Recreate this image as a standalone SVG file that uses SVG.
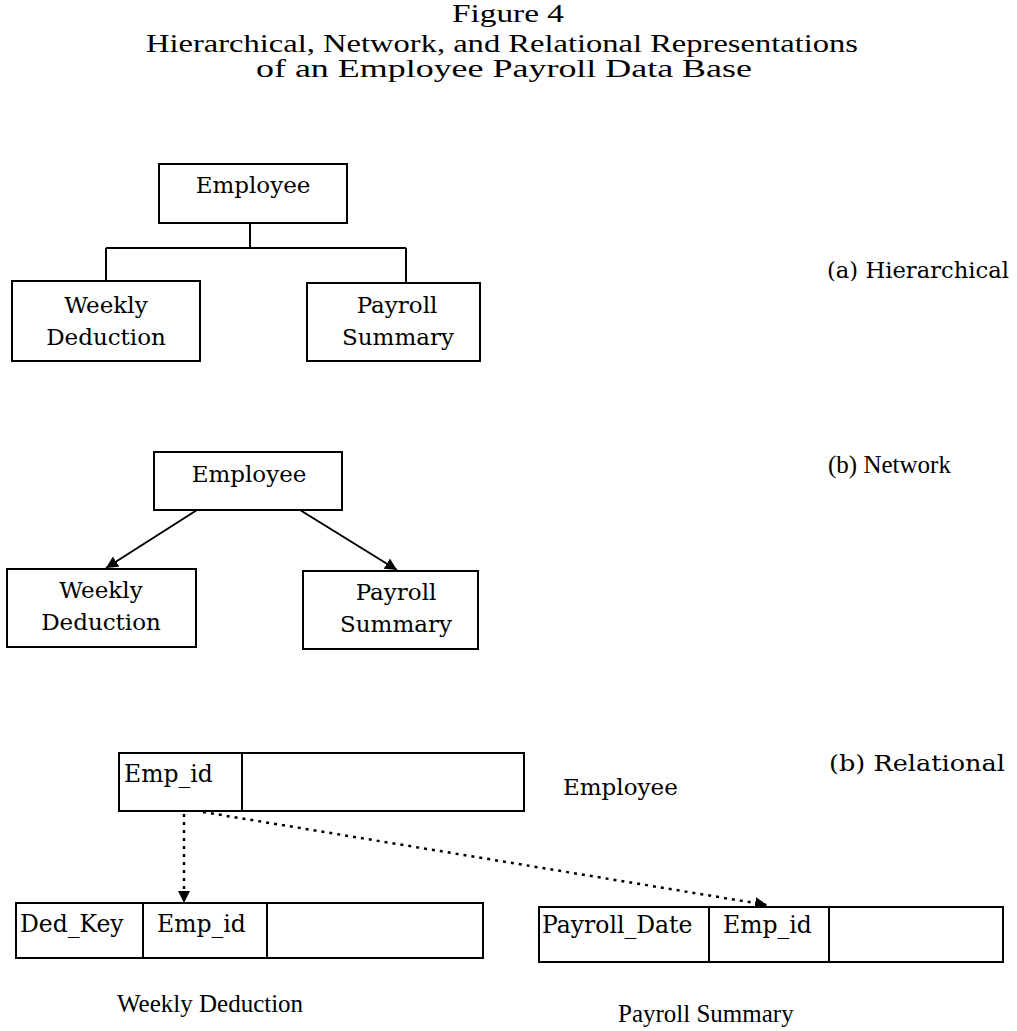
<svg xmlns="http://www.w3.org/2000/svg" width="1017" height="1031" viewBox="0 0 1017 1031">
<style>
.bg{fill:#fff}
.box{fill:#fff;stroke:#000;stroke-width:2}
.ln{fill:none;stroke:#000;stroke-width:2}
.dot{fill:none;stroke:#000;stroke-width:2.5;stroke-dasharray:3 5}
.t{font-family:"Liberation Serif","Times New Roman",serif;fill:#000}
.n{font-family:"DejaVu Serif","Liberation Serif",serif;fill:#000}
</style>
<defs>
<marker id="ah" viewBox="0 0 10 10" refX="10" refY="5" markerWidth="12" markerHeight="12" markerUnits="userSpaceOnUse" orient="auto">
<path d="M0,0 L10,5 L0,10 z" fill="#000"/>
</marker>
</defs>
<rect class="bg" x="0" y="0" width="1017" height="1031"/>
<g id="title">
<text class="t" x="452" y="22" font-size="25" textLength="112" lengthAdjust="spacingAndGlyphs">Figure 4</text>
<text class="t" x="146" y="52" font-size="25" textLength="712" lengthAdjust="spacingAndGlyphs">Hierarchical, Network, and Relational Representations</text>
<text class="t" x="256" y="77" font-size="25" textLength="496" lengthAdjust="spacingAndGlyphs">of an Employee Payroll Data Base</text>
</g>
<g id="connectors">
<path class="ln" d="M250,223 V248 M106,248 H406 M106,248 V281 M406,248 V283"/>
<line class="ln" x1="197" y1="510" x2="106" y2="568" marker-end="url(#ah)"/>
<line class="ln" x1="300" y1="510" x2="397" y2="570" marker-end="url(#ah)"/>
<line class="dot" x1="184" y1="814" x2="184" y2="903" marker-end="url(#ah)"/>
<line class="dot" x1="203" y1="812" x2="767" y2="905" marker-end="url(#ah)"/>
</g>
<g id="h-employee">
<rect class="box" x="159" y="164" width="188" height="59"/>
<text class="n" x="253" y="193" font-size="23" text-anchor="middle">Employee</text>
</g>
<g id="h-weekly">
<rect class="box" x="12" y="281" width="188" height="80"/>
<text class="n" x="106" y="313" font-size="23" text-anchor="middle">Weekly</text>
<text class="n" x="106" y="345" font-size="23" text-anchor="middle">Deduction</text>
</g>
<g id="h-payroll">
<rect class="box" x="307" y="283" width="173" height="78"/>
<text class="n" x="397" y="313" font-size="23" text-anchor="middle">Payroll</text>
<text class="n" x="398" y="345" font-size="23" text-anchor="middle">Summary</text>
</g>
<g id="label-a">
<text class="n" x="827" y="278" font-size="22.5" textLength="182" lengthAdjust="spacingAndGlyphs">(a) Hierarchical</text>
</g>
<g id="n-employee">
<rect class="box" x="154" y="452" width="188" height="58"/>
<text class="n" x="249" y="482" font-size="23" text-anchor="middle">Employee</text>
</g>
<g id="n-weekly">
<rect class="box" x="7" y="569" width="189" height="78"/>
<text class="n" x="101" y="598" font-size="23" text-anchor="middle">Weekly</text>
<text class="n" x="101" y="630" font-size="23" text-anchor="middle">Deduction</text>
</g>
<g id="n-payroll">
<rect class="box" x="303" y="571" width="175" height="78"/>
<text class="n" x="396" y="600" font-size="23" text-anchor="middle">Payroll</text>
<text class="n" x="396" y="632" font-size="23" text-anchor="middle">Summary</text>
</g>
<g id="label-b">
<text class="t" x="828" y="473" font-size="25">(b) Network</text>
</g>
<g id="r-employee">
<rect class="box" x="119" y="753" width="405" height="58"/>
<line class="ln" x1="242" y1="753" x2="242" y2="811"/>
<text class="n" x="124" y="782" font-size="23.5">Emp_id</text>
</g>
<text class="n" x="563" y="795" font-size="23">Employee</text>
<g id="label-c">
<text class="n" x="829" y="771" font-size="23" textLength="176" lengthAdjust="spacingAndGlyphs">(b) Relational</text>
</g>
<g id="r-weekly">
<rect class="box" x="16" y="903" width="467" height="55"/>
<line class="ln" x1="143" y1="903" x2="143" y2="958"/>
<line class="ln" x1="267" y1="903" x2="267" y2="958"/>
<text class="n" x="20" y="932" font-size="23.5">Ded_Key</text>
<text class="n" x="157" y="932" font-size="23.5">Emp_id</text>
</g>
<g id="r-payroll">
<rect class="box" x="539" y="907" width="464" height="55"/>
<line class="ln" x1="709" y1="907" x2="709" y2="962"/>
<line class="ln" x1="829" y1="907" x2="829" y2="962"/>
<text class="n" x="542" y="933" font-size="23.5">Payroll_Date</text>
<text class="n" x="723" y="933" font-size="23.5">Emp_id</text>
</g>
<text class="t" x="117" y="1012" font-size="25">Weekly Deduction</text>
<text class="t" x="618" y="1022" font-size="25">Payroll Summary</text>
</svg>
